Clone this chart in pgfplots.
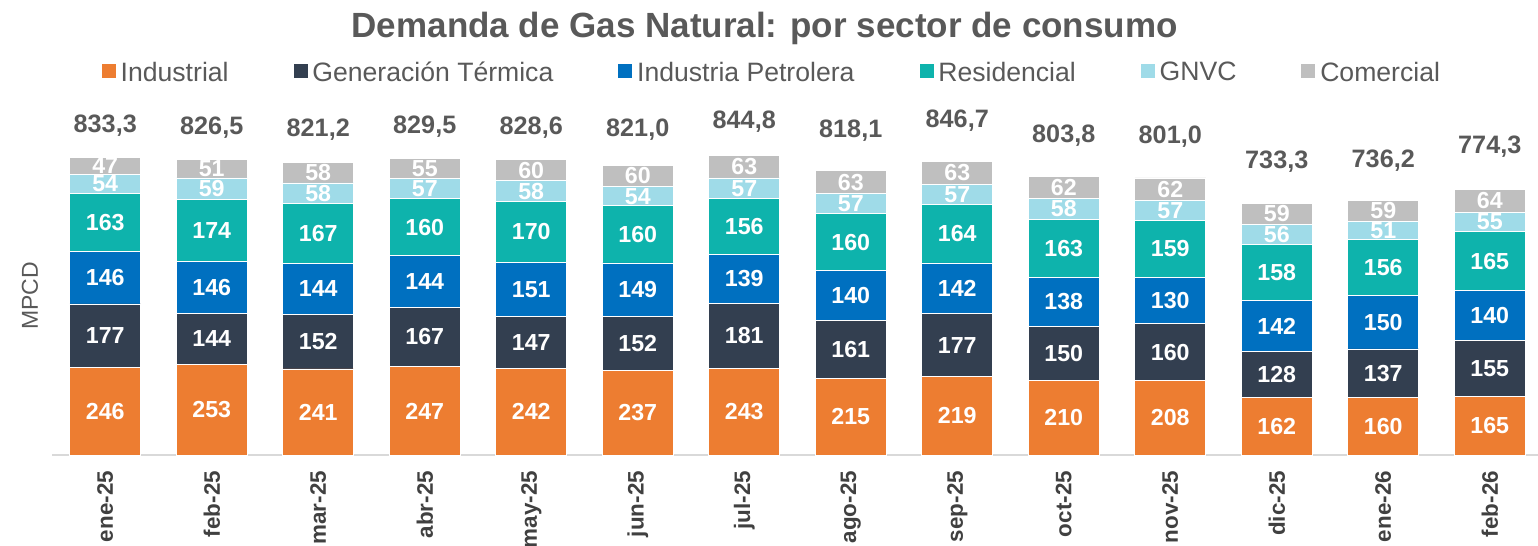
\documentclass[border=0pt]{standalone}
\usepackage{pgfplots}
\usepackage{pgfplotstable}
\pgfplotsset{compat=1.18}
\usepackage{fontspec}
\setmainfont{Liberation Sans}
\definecolor{cInd}{HTML}{ED7D31}
\definecolor{cGen}{HTML}{333F50}
\definecolor{cPet}{HTML}{0070C0}
\definecolor{cRes}{HTML}{0EB3AC}
\definecolor{cGnv}{HTML}{9FDBE8}
\definecolor{cCom}{HTML}{BFBFBF}
\definecolor{txt}{HTML}{595959}
\definecolor{tickc}{HTML}{404040}
\definecolor{axc}{HTML}{D9D9D9}

\pgfplotstableread{
x ind gen pet res gnv com tot
0 246 177 146 163 54 47 833.3
1 253 144 146 174 59 51 826.5
2 241 152 144 167 58 58 821.2
3 247 167 144 160 57 55 829.5
4 242 147 151 170 58 60 828.6
5 237 152 149 160 54 60 821.0
6 243 181 139 156 57 63 844.8
7 215 161 140 160 57 63 818.1
8 219 177 142 164 57 63 846.7
9 210 150 138 163 58 62 803.8
10 208 160 130 159 57 62 801.0
11 162 128 142 158 56 59 733.3
12 160 137 150 156 51 59 736.2
13 165 155 140 165 55 64 774.3
}\data

\pgfplotsset{
  sq/.style={legend image code/.code={\fill[##1] (0pt,-2.5pt) rectangle (7.5pt,5pt);}},
  seg/.style={
    visualization depends on={rawy \as \rawy},
    nodes near coords={\pgfmathprintnumber[fixed,precision=0,assume math mode=true]{\rawy}},
    every node near coord/.append style={anchor=center, inner sep=0pt,
      font=\bfseries\fontsize{11.6pt}{13pt}\selectfont, text=white},
  },
}

\begin{document}
\begin{tikzpicture}
\path[use as bounding box] (0,0) rectangle (769pt,273pt);
\begin{axis}[
  at={(26pt,45.5pt)}, anchor=south west,
  scale only axis, width=745.5pt, y=0.1785pt,
  xmin=-0.5, xmax=13.5, ymin=0, ymax=1000,
  ybar stacked, bar width=35.5pt,
  axis lines*=left,
  y axis line style={draw=none},
  x axis line style={draw=axc, line width=1pt},
  ytick=\empty,
  xtick={0,...,13},
  xticklabels={ene-25,feb-25,mar-25,abr-25,may-25,jun-25,jul-25,ago-25,sep-25,oct-25,nov-25,dic-25,ene-26,feb-26},
  major tick length=0pt,
  xticklabel shift=4.5pt,
  xticklabel style={rotate=90, anchor=east, font=\bfseries\fontsize{11.2pt}{13pt}\selectfont, text=tickc},
  ylabel={MPCD},
  every axis y label/.style={at={(axis description cs:-0.0148,0.445)}, rotate=90, anchor=center,
    font=\fontsize{11.5pt}{13pt}\selectfont, text=txt},
  title={Demanda de Gas Natural: por sector de consumo},
  every axis title shift=0pt,
  every axis title/.style={at={(axis description cs:0.478,1.196)}, anchor=center,
    font=\bfseries\fontsize{17.5pt}{20pt}\selectfont, text=txt},
  legend style={at={(axis description cs:0.4832,1.07)}, anchor=center, legend columns=6,
    draw=none, fill=none, font=\fontsize{13.3pt}{16pt}\selectfont, text=txt,
    /tikz/every even column/.append style={column sep=30pt}},
  clip=false,
]
\addplot[fill=cInd, draw=white, line width=0.4pt, seg, sq] table[x=x,y=ind]{\data};
\addplot[fill=cGen, draw=white, line width=0.4pt, seg, sq] table[x=x,y=gen]{\data};
\addplot[fill=cPet, draw=white, line width=0.4pt, seg, sq] table[x=x,y=pet]{\data};
\addplot[fill=cRes, draw=white, line width=0.4pt, seg, sq] table[x=x,y=res]{\data};
\addplot[fill=cGnv, draw=white, line width=0.4pt, seg, sq] table[x=x,y=gnv]{\data};
\addplot[fill=cCom, draw=white, line width=0.4pt, seg, sq] table[x=x,y=com]{\data};
\legend{Industrial, Generación Térmica, Industria Petrolera, Residencial, GNVC, Comercial}
\end{axis}
\begin{axis}[
  at={(26pt,45.5pt)}, anchor=south west,
  scale only axis, width=745.5pt, y=0.1785pt,
  xmin=-0.5, xmax=13.5, ymin=0, ymax=1000,
  hide axis, clip=false,
]
\addplot[draw=none, mark=none,
  point meta=y,
  nodes near coords={\pgfmathprintnumber[fixed,fixed zerofill,precision=1,use comma,assume math mode=true]{\pgfplotspointmeta}},
  every node near coord/.style={anchor=center, yshift=16pt,
    font=\bfseries\fontsize{12.6pt}{15pt}\selectfont, text=txt}]
  table[x=x,y=tot]{\data};
\end{axis}
\end{tikzpicture}
\end{document}
